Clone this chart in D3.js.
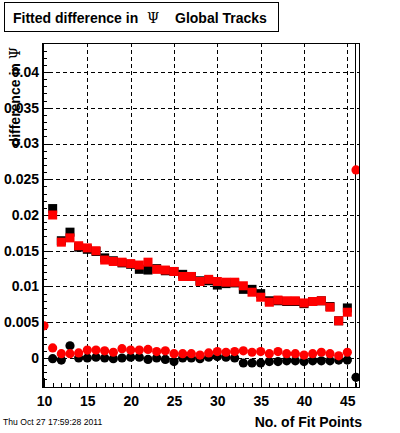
<!DOCTYPE html>
<html>
<head>
<meta charset="utf-8">
<script src="https://d3js.org/d3.v7.min.js"></script>
<style>
  body { margin: 0; background: #fff; }
  text { font-family: "Liberation Sans", Arial, sans-serif; }
</style>
</head>
<body>
<script>
// fit points
var xSquares = d3.range(11, 46);
var xBlackCircles = d3.range(11, 47);
var xRedCircles = d3.range(10, 47);

// upper series (squares)
var blackSquares = [0.0209, 0.0164, 0.0176, 0.0155, 0.0152, 0.0149, 0.0140, 0.0136, 0.0133, 0.0131,
  0.0124, 0.0123, 0.0125, 0.0122, 0.0121, 0.0117, 0.0114, 0.0108, 0.0108, 0.0102,
  0.0104, 0.0105, 0.0096, 0.0096, 0.0090, 0.0080, 0.0080, 0.0079, 0.0079, 0.0076,
  0.0079, 0.0080, 0.0072, 0.0052, 0.0070];
var redSquares = [0.0200, 0.0162, 0.0168, 0.0157, 0.0154, 0.0150, 0.0137, 0.0135, 0.0134, 0.0132,
  0.0130, 0.0134, 0.0124, 0.0123, 0.0121, 0.0114, 0.0114, 0.0107, 0.0110, 0.0107,
  0.0106, 0.0106, 0.0101, 0.0092, 0.0085, 0.0078, 0.0081, 0.0080, 0.0080, 0.0077,
  0.0079, 0.0080, 0.0071, 0.0052, 0.0064];

// lower series (circles)
var blackCircles = [-0.0001, -0.0003, 0.0017, 0.0000, 0.0000, 0.0001, 0.0000, -0.0001, 0.0000, 0.0001,
  0.0001, -0.0002, 0.0000, -0.0002, -0.0005, 0.0000, 0.0000, -0.0001, 0.0001, 0.0002,
  0.0001, 0.0000, -0.0007, -0.0007, -0.0007, -0.0005, -0.0005, -0.0004, -0.0004, -0.0005,
  -0.0004, -0.0004, -0.0004, -0.0003, -0.0003, -0.0027];
var redCircles = [0.0045, 0.0014, 0.0006, 0.0006, 0.0007, 0.0011, 0.0011, 0.0010, 0.0008, 0.0013,
  0.0011, 0.0011, 0.0012, 0.0009, 0.0010, 0.0006, 0.0006, 0.0006, 0.0004, 0.0007,
  0.0009, 0.0008, 0.0009, 0.0010, 0.0008, 0.0009, 0.0006, 0.0009, 0.0006, 0.0006,
  0.0004, 0.0006, 0.0008, 0.0006, 0.0003, 0.0008, 0.0263];

var xTicks = [10, 15, 20, 25, 30, 35, 40, 45];
var yTicks = [0, 0.005, 0.01, 0.015, 0.02, 0.025, 0.03, 0.035, 0.04];

var w = 400, h = 433;
var fLeft = 42, fRight = 360, fTop = 43, fBottom = 388;

var svg = d3.select("body").append("svg")
  .attr("width", w).attr("height", h);

svg.append("rect").attr("width", w).attr("height", h).attr("fill", "#fff");

var x = d3.scaleLinear().domain([9.77, 46.46]).range([fLeft, fRight]);
var y = d3.scaleLinear().domain([-0.0042, 0.04406]).range([fBottom, fTop]);

svg.append("clipPath").attr("id", "plot")
  .append("rect").attr("x", fLeft).attr("y", fTop)
  .attr("width", fRight - fLeft).attr("height", fBottom - fTop);

// grid
var grid = svg.append("g").attr("stroke", "#000").attr("stroke-dasharray", "4,3")
  .attr("shape-rendering", "crispEdges");
grid.selectAll(".gx").data(xTicks.slice(1)).enter().append("line")
  .attr("x1", function(d) { return Math.round(x(d)) + 0.5; })
  .attr("x2", function(d) { return Math.round(x(d)) + 0.5; })
  .attr("y1", fTop).attr("y2", fBottom);
grid.selectAll(".gy").data(yTicks).enter().append("line")
  .attr("y1", function(d) { return Math.round(y(d)) + 0.5; })
  .attr("y2", function(d) { return Math.round(y(d)) + 0.5; })
  .attr("x1", fLeft).attr("x2", fRight);

// axes
var fmtY = function(d) { return String(Math.round(d * 1000) / 1000); };

var yMinor = svg.append("g").attr("transform", "translate(" + fLeft + ",0)")
  .call(d3.axisLeft(y).tickValues(d3.range(-4, 45).map(function(i) { return i / 1000; }))
    .tickSize(-5).tickFormat(""));
var yAxis = svg.append("g").attr("transform", "translate(" + fLeft + ",0)")
  .call(d3.axisLeft(y).tickValues(yTicks).tickSize(-10).tickPadding(3).tickFormat(fmtY));

var xMinor = svg.append("g").attr("transform", "translate(0," + fBottom + ")")
  .call(d3.axisBottom(x).tickValues(d3.range(10, 47)).tickSize(-5).tickFormat(""));
var xAxis = svg.append("g").attr("transform", "translate(0," + fBottom + ")")
  .call(d3.axisBottom(x).tickValues(xTicks).tickSize(-10).tickPadding(8));

[yMinor, yAxis, xMinor, xAxis].forEach(function(g) {
  g.select(".domain").remove();
  g.selectAll("line").attr("stroke", "#000").attr("shape-rendering", "crispEdges");
  g.selectAll("text").attr("fill", "#000")
    .style("font-size", "14px").style("font-weight", "bold")
    .style("font-family", "'Liberation Sans', Arial, sans-serif");
});

// markers
var plot = svg.append("g").attr("clip-path", "url(#plot)");

// big error bar on the last black point
plot.append("line")
  .attr("x1", Math.round(x(46)) - 0.5).attr("x2", Math.round(x(46)) - 0.5)
  .attr("y1", y(blackCircles[blackCircles.length - 1] + 0.06))
  .attr("y2", y(blackCircles[blackCircles.length - 1] - 0.06))
  .attr("stroke", "#000");

function squares(xs, vals, color) {
  plot.append("g").selectAll("rect").data(vals).enter().append("rect")
    .attr("x", function(d, i) { return x(xs[i]) - 4.5; })
    .attr("y", function(d) { return y(d) - 4.5; })
    .attr("width", 9).attr("height", 9)
    .attr("fill", color);
}
function circles(xs, vals, color) {
  plot.append("g").selectAll("circle").data(vals).enter().append("circle")
    .attr("cx", function(d, i) { return x(xs[i]); })
    .attr("cy", function(d) { return y(d); })
    .attr("r", 4.6)
    .attr("fill", color);
}
squares(xSquares, blackSquares, "#000");
squares(xSquares, redSquares, "#ff0000");
circles(xBlackCircles, blackCircles, "#000");
circles(xRedCircles, redCircles, "#ff0000");

// frame
svg.append("rect").attr("x", fLeft + 0.5).attr("y", fTop + 0.5)
  .attr("width", fRight - fLeft - 1).attr("height", fBottom - fTop - 1)
  .attr("fill", "none").attr("stroke", "#000").attr("shape-rendering", "crispEdges");
svg.append("line").attr("x1", fLeft + 1.5).attr("x2", fLeft + 1.5)
  .attr("y1", fTop).attr("y2", fBottom).attr("stroke", "#000");

// title box
svg.append("rect").attr("x", 4.5).attr("y", 2.5).attr("width", 274).attr("height", 29)
  .attr("fill", "#fff").attr("stroke", "#000");
var title = svg.append("text").attr("y", 23)
  .style("font-size", "14px").style("font-weight", "bold");
title.append("tspan").attr("x", 13).text("Fitted difference in");
title.append("tspan").attr("x", 147).style("font-weight", "normal")
  .style("font-family", "'DejaVu Serif', serif").text("Ψ");
title.append("tspan").attr("x", 175).text("Global Tracks");

// y title
var yt = svg.append("text").attr("transform", "translate(20,47) rotate(-90)")
  .attr("text-anchor", "end")
  .style("font-size", "14px").style("font-weight", "bold");
yt.append("tspan").text("difference in ");
yt.append("tspan").style("font-weight", "normal")
  .style("font-family", "'DejaVu Serif', serif").text("Ψ");

// x title
svg.append("text").attr("x", 362).attr("y", 427).attr("text-anchor", "end")
  .style("font-size", "14px").style("font-weight", "bold")
  .text("No. of Fit Points");

// date stamp
svg.append("text").attr("x", 3).attr("y", 425)
  .style("font-size", "8.6px")
  .text("Thu Oct 27 17:59:28 2011");
</script>
</body>
</html>
